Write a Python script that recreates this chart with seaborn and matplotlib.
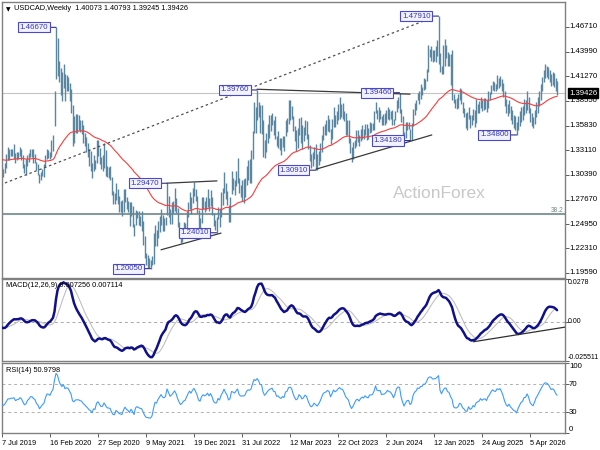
import numpy as np
import pandas as pd
import matplotlib
matplotlib.use("Agg")
import matplotlib.pyplot as plt
import matplotlib.transforms as mtransforms
import seaborn as sns

# ---------------- data (weekly bars, first bar = week of 7 Jul 2019) ----------------
# prices given as pips above 1.0000 (e.g. 3130 -> 1.3130)
HIGH = [
    3130, 3105, 3165, 3265, 3345, 3330, 3330, 3330, 3385, 3280,
    3290, 3290, 3345, 3330, 3255, 3155, 3220, 3255, 3280, 3320,
    3320, 3320, 3275, 3180, 3155, 3045, 3075, 3100, 3160, 3260,
    3330, 3310, 3290, 3425, 3480, 3960, 4667, 4550, 4300, 4220,
    4170, 4265, 4150, 4145, 4120, 4050, 3990, 3810, 3690, 3715,
    3715, 3700, 3645, 3650, 3590, 3500, 3455, 3390, 3330, 3300,
    3170, 3260, 3205, 3420, 3420, 3335, 3235, 3260, 3390, 3315,
    3140, 3130, 3135, 3020, 2860, 2835, 2955, 2885, 2810, 2755,
    2760, 2880, 2880, 2790, 2750, 2740, 2740, 2695, 2500, 2650,
    2640, 2640, 2590, 2640, 2535, 2360, 2180, 2155, 2120, 2105,
    2140, 2395, 2485, 2430, 2530, 2590, 2660, 2600, 2560, 2570,
    2947, 2805, 2660, 2745, 2750, 2890, 2780, 2670, 2520, 2380,
    2440, 2515, 2510, 2640, 2740, 2850, 2790, 2895, 2965, 2880,
    2810, 2650, 2560, 2795, 2790, 2750, 2790, 2880, 2780, 2870,
    2800, 2620, 2545, 2580, 2680, 2670, 2850, 2900, 3075, 2950,
    2860, 2710, 2800, 3080, 3000, 2985, 3080, 3225, 3000, 2930,
    2980, 2990, 3000, 3135, 3200, 3210, 3310, 3520, 3840, 3790,
    3976, 3840, 3810, 3810, 3640, 3420, 3500, 3600, 3700, 3705,
    3720, 3650, 3685, 3470, 3520, 3450, 3445, 3470, 3470, 3650,
    3670, 3860, 3860, 3800, 3690, 3580, 3540, 3560, 3670, 3680,
    3590, 3570, 3650, 3630, 3495, 3370, 3270, 3290, 3345, 3380,
    3265, 3300, 3390, 3480, 3580, 3600, 3640, 3695, 3660, 3550,
    3660, 3785, 3700, 3740, 3825, 3900, 3820, 3830, 3745, 3720,
    3640, 3640, 3445, 3345, 3400, 3420, 3540, 3535, 3480, 3545,
    3585, 3545, 3605, 3605, 3560, 3620, 3610, 3615, 3745, 3846,
    3760, 3785, 3760, 3690, 3710, 3720, 3760, 3790, 3770, 3745,
    3755, 3660, 3740, 3860, 3900, 3946, 3770, 3690, 3510, 3620,
    3620, 3620, 3550, 3610, 3770, 3835, 3860, 3945, 3965, 4040,
    4010, 4105, 4100, 4210, 4467, 4430, 4465, 4420, 4420, 4460,
    4525, 4791, 4380, 4240, 4470, 4540, 4470, 4400, 4370, 4370,
    4415, 3930, 3880, 3890, 3930, 4000, 3990, 3840, 3780, 3720,
    3730, 3790, 3700, 3700, 3770, 3760, 3880, 3820, 3850, 3900,
    3860, 3890, 3890, 3860, 3960, 3950, 4030, 4080, 4060, 4040,
    4140, 4110, 4130, 4100, 4050, 3960, 3880, 3820, 3860, 3800,
    3760, 3700, 3690, 3620, 3690, 3740, 3790, 3800, 3880, 3870,
    3960, 3900, 3780, 3720, 3680, 3760, 3840, 3900, 3960, 4040,
    4120, 4200, 4260, 4240, 4230, 4200, 4150, 4170, 4160, 4110,
    4079,
]
LOW = [
    3040, 3016, 3060, 3120, 3200, 3205, 3250, 3250, 3220, 3165,
    3200, 3215, 3245, 3200, 3110, 3065, 3040, 3140, 3180, 3240,
    3235, 3165, 3165, 3090, 3040, 2950, 2985, 3030, 3020, 3130,
    3220, 3230, 3210, 3240, 3300, 3580, 4100, 4125, 4060, 3920,
    3850, 4000, 3855, 3965, 3960, 3855, 3720, 3360, 3390, 3500,
    3505, 3530, 3515, 3485, 3390, 3360, 3290, 3235, 3140, 3080,
    3000, 3080, 3100, 3170, 3250, 3160, 3100, 3080, 3110, 3030,
    3020, 3000, 2980, 2815, 2720, 2715, 2760, 2720, 2630, 2630,
    2590, 2630, 2735, 2660, 2625, 2470, 2590, 2460, 2365, 2490,
    2560, 2490, 2480, 2420, 2270, 2120, 2040, 2015, 2010, 2005,
    2040, 2060, 2250, 2255, 2345, 2410, 2490, 2420, 2420, 2490,
    2600, 2570, 2495, 2495, 2620, 2640, 2620, 2460, 2350, 2288,
    2300, 2350, 2390, 2450, 2570, 2660, 2610, 2730, 2810, 2750,
    2620, 2450, 2450, 2510, 2660, 2635, 2650, 2690, 2640, 2700,
    2600, 2480, 2430, 2401, 2550, 2460, 2570, 2710, 2840, 2770,
    2710, 2515, 2520, 2830, 2870, 2820, 2915, 2955, 2840, 2790,
    2750, 2730, 2790, 2925, 2985, 2955, 2950, 3220, 3505, 3500,
    3640, 3680, 3500, 3495, 3235, 3225, 3290, 3390, 3450, 3520,
    3590, 3480, 3430, 3360, 3340, 3310, 3260, 3350, 3300, 3470,
    3510, 3600, 3650, 3655, 3520, 3410, 3300, 3340, 3480, 3390,
    3320, 3410, 3480, 3440, 3320, 3190, 3115, 3140, 3215, 3091,
    3095, 3150, 3190, 3290, 3420, 3480, 3480, 3520, 3510, 3380,
    3440, 3570, 3570, 3600, 3640, 3660, 3680, 3660, 3630, 3480,
    3480, 3390, 3285, 3180, 3220, 3340, 3360, 3400, 3360, 3410,
    3440, 3440, 3480, 3420, 3440, 3500, 3510, 3530, 3535, 3720,
    3660, 3620, 3660, 3590, 3590, 3590, 3610, 3660, 3650, 3660,
    3590, 3590, 3640, 3730, 3780, 3720, 3620, 3470, 3440, 3450,
    3540, 3550, 3418, 3420, 3580, 3700, 3750, 3860, 3820, 3880,
    3920, 3980, 3990, 4070, 4170, 4340, 4300, 4290, 4300, 4290,
    4350, 4260, 4170, 4150, 4150, 4240, 4330, 4240, 4240, 4030,
    3860, 3830, 3780, 3770, 3780, 3870, 3820, 3720, 3680, 3560,
    3540, 3660, 3560, 3590, 3640, 3570, 3610, 3720, 3720, 3780,
    3740, 3760, 3770, 3730, 3780, 3870, 3930, 3980, 3960, 3970,
    3990, 4000, 4020, 3970, 3900, 3800, 3720, 3690, 3720, 3640,
    3600, 3560, 3530, 3480, 3530, 3580, 3620, 3650, 3700, 3720,
    3760, 3720, 3620, 3580, 3560, 3600, 3680, 3720, 3800, 3870,
    3960, 4060, 4110, 4120, 4100, 4060, 4020, 4030, 4010, 3960,
    3925,
]
START_DATE = "2019-07-07"
LAST_CLOSE = 1.39426
TITLE = "USDCAD,Weekly  1.40073 1.40793 1.39245 1.39426"
MACD_TITLE = "MACD(12,26,9) 0.007256 0.007114"
RSI_TITLE = "RSI(14) 50.9798"

DATE_LABELS = ["7 Jul 2019", "16 Feb 2020", "27 Sep 2020", "9 May 2021", "19 Dec 2021",
               "31 Jul 2022", "12 Mar 2023", "22 Oct 2023", "2 Jun 2024", "12 Jan 2025",
               "24 Aug 2025", "5 Apr 2026"]
PRICE_TICKS = [1.46710, 1.43990, 1.41270, 1.38550, 1.35830, 1.33110,
               1.30390, 1.27670, 1.24950, 1.22310, 1.19590]
MACD_TICKS = [0.0278, 0.0, -0.025511]
MACD_TICK_TEXT = ["0.0278", "0.00", "-0.025511"]
RSI_TICKS = [100, 70, 30, 0]

FIB_LEVEL = 1.2610
FIB_TEXT = "38.2"

# pivot labels: (week index, price)
PIVOT_WEEKS = [36, 99, 110, 143, 170, 209, 265, 272, 291, 343]
PIVOT_PRICES = [1.46670, 1.20050, 1.29470, 1.24010, 1.39760, 1.30910,
                1.39460, 1.34180, 1.47910, 1.34800]

# drawn trend lines: week indices and prices of their end points
CHANNEL_WEEKS = [-1.3, 287.0]
CHANNEL_PRICES = [1.2929, 1.4775]
LINE_A_WEEKS = [110, 143.3]        # resistance from 1.2947
LINE_A_PRICES = [1.2948, 1.2973]
LINE_B_WEEKS = [106, 146]          # support under 1.2401
LINE_B_PRICES = [1.2213, 1.2397]
LINE_C_WEEKS = [170, 272]          # resistance from 1.3976
LINE_C_PRICES = [1.3984, 1.3930]
LINE_D_WEEKS = [209.3, 286.5]      # support from 1.3091
LINE_D_PRICES = [1.3102, 1.3480]
MACD_LINE_WEEKS = [314.2, 376.5]
MACD_LINE_VALUES = [-0.0130, -0.0033]

MA_SEED = 1.3215
EMA12_SEED = 1.3150
EMA26_SEED = 1.3185
AVG_GAIN_SEED = 0.0040
AVG_LOSS_SEED = 0.0060

# ---------------- computations ----------------
hi = 1 + np.array(HIGH) / 1e4
lo = 1 + np.array(LOW) / 1e4
mid = (hi + lo) / 2
weeks = np.arange(len(hi))


def ema(x, span, seed):
    a = 2.0 / (span + 1)
    out = np.empty(len(x))
    v = seed
    for k, xv in enumerate(x):
        v = v + a * (xv - v)
        out[k] = v
    return out


ma = ema(mid, 55, MA_SEED)
macd = ema(mid, 12, EMA12_SEED) - ema(mid, 26, EMA26_SEED)
signal = pd.Series(macd).rolling(9, min_periods=1).mean().values

rsi = np.empty(len(mid))
ag, al = AVG_GAIN_SEED, AVG_LOSS_SEED
rsi[0] = 100 - 100 / (1 + ag / al)
for k in range(1, len(mid)):
    ch = mid[k] - mid[k - 1]
    ag = (ag * 13 + max(ch, 0)) / 14
    al = (al * 13 + max(-ch, 0)) / 14
    rsi[k] = 100 - 100 / (1 + ag / al)

start = pd.Timestamp(START_DATE)
tick_pos = [(pd.Timestamp(d) - start).days / 7 for d in DATE_LABELS]

# ---------------- styling ----------------
sns.set_theme(style="white")
plt.rcParams["font.family"] = ["Liberation Sans", "DejaVu Sans"]
plt.rcParams["axes.edgecolor"] = "#808080"
plt.rcParams["axes.linewidth"] = 1.0

FS = 5.3        # general small text
FS_AX = 5.6     # right-hand scale labels
FS_LBL = 5.7    # pivot price labels
BAR_C = "#5b86a0"
FRAME = "#808080"

fig = plt.figure(figsize=(6, 4.5), dpi=100)
W, H = 600.0, 450.0
left = 1.5 / W
width = (565 - 1.5) / W


def panel(top_px, bot_px):
    return fig.add_axes([left, 1 - bot_px / H, width, (bot_px - top_px) / H])


ax = panel(2, 277.5)
ax2 = panel(279, 361)
ax3 = panel(363, 433)

XL = (-0.33, 375.3)
for a in (ax, ax2, ax3):
    a.set_xlim(*XL)
    a.set_facecolor("white")
    for s in a.spines.values():
        s.set_color(FRAME)
        s.set_linewidth(1.0)
    a.tick_params(axis="y", which="both", left=False, right=True, labelleft=False,
                  labelright=False, direction="out", length=3, width=0.6, color="#404040")

# ---------- main price panel ----------
ax.set_ylim(1.19073, 1.49466)
ax.axhline(LAST_CLOSE, color="#c4c4c4", lw=0.8, zorder=1)
ax.axhline(FIB_LEVEL, color="#8a9a9a", lw=1.5, zorder=1)
ax.vlines(weeks, lo, hi, color=BAR_C, lw=1.0, zorder=2)
sns.lineplot(x=weeks, y=ma, ax=ax, color="#ff3b3b", linewidth=0.8, zorder=3)

ax.plot(CHANNEL_WEEKS, CHANNEL_PRICES, color="#505050", lw=0.9, ls=(0, (2, 2.2)), zorder=3)
for wk, pr in ((LINE_A_WEEKS, LINE_A_PRICES), (LINE_B_WEEKS, LINE_B_PRICES),
               (LINE_C_WEEKS, LINE_C_PRICES), (LINE_D_WEEKS, LINE_D_PRICES)):
    ax.plot(wk, pr, color="#3a3a3a", lw=0.9, zorder=3)

for wk, pr in zip(PIVOT_WEEKS, PIVOT_PRICES):
    ax.annotate(f"{pr:.5f}", xy=(wk, pr), xytext=(-8, 0), textcoords="offset pixels",
                ha="right", va="center", fontsize=FS_LBL, color="#3838b0", zorder=5,
                bbox=dict(boxstyle="square,pad=0.2", fc="#f2f2ff", ec="#4a4ac8", lw=0.8),
                arrowprops=dict(arrowstyle="-", color="#303080", lw=0.8,
                                shrinkA=0, shrinkB=0))

ax.text(0.778, 0.305, "ActionForex", transform=ax.transAxes, ha="center", va="center",
        fontsize=12.5, color="#c8c8c8", zorder=1)
ax.text(0.998, FIB_LEVEL, FIB_TEXT, transform=ax.get_yaxis_transform(), ha="right",
        va="bottom", fontsize=4.8, color="#7a8a8a")
ax.text(4 / 563.5, 1 - 5 / 275.5, "\u25bc", transform=ax.transAxes, ha="left", va="top",
        fontsize=4.2, color="black", family=["DejaVu Sans"])
ax.text(12 / 563.5, 1 - 2.5 / 275.5, TITLE, transform=ax.transAxes, ha="left", va="top",
        fontsize=FS, color="black")

ax.set_yticks(PRICE_TICKS)
ytr = mtransforms.offset_copy(ax.get_yaxis_transform(), fig=fig, x=4, y=0, units="dots")
for p in PRICE_TICKS:
    ax.text(1.0, p, f"{p:.5f}", transform=ytr, ha="left", va="center", fontsize=FS_AX,
            color="black", clip_on=False)
ax.text(1.0, LAST_CLOSE, f"{LAST_CLOSE:.5f}", transform=ytr, ha="left", va="center",
        fontsize=FS_AX, color="white", clip_on=False, zorder=6,
        bbox=dict(boxstyle="square,pad=0.17", fc="black", ec="black"))
ax.set_xticks([])
ax.set_ylabel("")
ax.set_xlabel("")

# ---------- MACD panel ----------
ax2.set_ylim(-0.025511, 0.0278)
ax2.axhline(0, color="#a8a8a8", lw=0.7, ls=(0, (3, 3)), zorder=1)
sns.lineplot(x=weeks, y=signal, ax=ax2, color="#c0c0c0", linewidth=0.8, zorder=2)
sns.lineplot(x=weeks, y=macd, ax=ax2, color="#10108a", linewidth=1.8, zorder=3)
ax2.plot(MACD_LINE_WEEKS, MACD_LINE_VALUES, color="#303030", lw=0.9, zorder=4)
ax2.set_yticks(MACD_TICKS)
ytr2 = mtransforms.offset_copy(ax2.get_yaxis_transform(), fig=fig, x=3, y=0, units="dots")
for v, t, va in zip(MACD_TICKS, MACD_TICK_TEXT, ["top", "center", "bottom"]):
    ax2.text(1.0, v, t, transform=ytr2, ha="left", va=va, fontsize=5.0,
             color="black", clip_on=False)
ax2.text(4 / 563.5, 0.96, MACD_TITLE, transform=ax2.transAxes, ha="left", va="top",
         fontsize=FS, color="black")
ax2.set_xticks([])
ax2.set_xlim(*XL)
ax2.set_ylabel("")
ax2.set_xlabel("")

# ---------- RSI panel ----------
ax3.set_ylim(0, 100)
for lvl in (70, 30):
    ax3.axhline(lvl, color="#b0b0b0", lw=0.7, ls=(0, (3, 3)), zorder=1)
sns.lineplot(x=weeks, y=rsi, ax=ax3, color="#3d9bff", linewidth=0.8, zorder=3)
ax3.set_yticks(RSI_TICKS)
ytr3 = mtransforms.offset_copy(ax3.get_yaxis_transform(), fig=fig, x=4, y=0, units="dots")
for v, va in zip(RSI_TICKS, ["top", "center", "center", "bottom"]):
    ax3.text(1.0, v, str(v), transform=ytr3, ha="left", va=va, fontsize=FS_AX,
             color="black", clip_on=False)
ax3.text(4 / 563.5, 0.95, RSI_TITLE, transform=ax3.transAxes, ha="left", va="top",
         fontsize=FS, color="black")
ax3.set_xticks(tick_pos)
ax3.set_xticklabels(DATE_LABELS, ha="left", fontsize=FS, color="black")
ax3.tick_params(axis="x", bottom=True, direction="out", length=3, width=0.6,
                color="#404040", pad=2)
ax3.set_xlim(*XL)
ax3.set_ylabel("")
ax3.set_xlabel("")

fig.savefig("out.png", dpi=100)
